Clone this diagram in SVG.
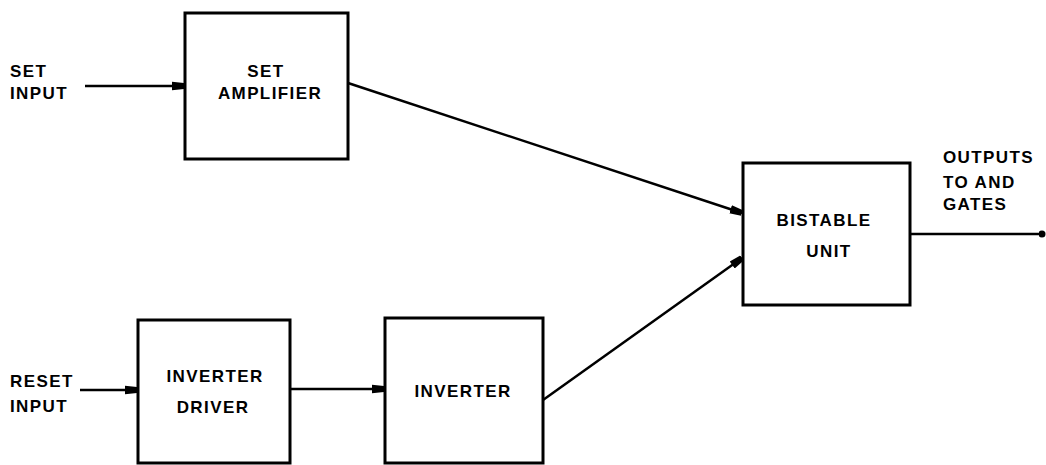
<svg xmlns="http://www.w3.org/2000/svg" width="1046" height="465" viewBox="0 0 1046 465">
<style>
.box{fill:#fff;stroke:#000;stroke-width:3}
.ln{fill:none;stroke:#000;stroke-width:2.5}
text{font-family:"Liberation Sans",Arial,sans-serif;font-weight:bold;font-size:17px;letter-spacing:1.4px;fill:#000}
.c{text-anchor:middle}
</style>
<defs>
<marker id="ah" viewBox="0 0 10 10" refX="10" refY="5" markerWidth="4.8" markerHeight="4.8" orient="auto" markerUnits="strokeWidth">
<path d="M0,1.5 L10,2.5 L10,7.5 L0,8.5 Z" fill="#000"/>
</marker>
<marker id="dot" viewBox="0 0 10 10" refX="5" refY="5" markerWidth="2.8" markerHeight="3.6" orient="auto" markerUnits="strokeWidth">
<ellipse cx="5" cy="5" rx="5" ry="5" fill="#000"/>
</marker>
</defs>
<g id="connectors">
<line class="ln" x1="85" y1="86" x2="184" y2="86" marker-end="url(#ah)"/>
<line class="ln" x1="348" y1="83" x2="742" y2="213" marker-end="url(#ah)"/>
<line class="ln" x1="80" y1="390" x2="137" y2="390" marker-end="url(#ah)"/>
<line class="ln" x1="290" y1="389" x2="384" y2="389" marker-end="url(#ah)"/>
<line class="ln" x1="543" y1="400" x2="742" y2="258" marker-end="url(#ah)"/>
<line class="ln" x1="910" y1="234" x2="1042" y2="234" marker-end="url(#dot)"/>
</g>
<g id="set-input-label">
<text x="10" y="77">SET</text>
<text x="10" y="99">INPUT</text>
</g>
<g id="reset-input-label">
<text x="10" y="387">RESET</text>
<text x="10" y="412">INPUT</text>
</g>
<g id="set-amplifier">
<rect class="box" x="185" y="13" width="163" height="146"/>
<text class="c" x="266" y="77">SET</text>
<text class="c" x="270" y="99">AMPLIFIER</text>
</g>
<g id="inverter-driver">
<rect class="box" x="138" y="320" width="152" height="143"/>
<text class="c" x="215" y="382">INVERTER</text>
<text class="c" x="213" y="413">DRIVER</text>
</g>
<g id="inverter">
<rect class="box" x="385" y="318" width="158" height="145"/>
<text class="c" x="463" y="397">INVERTER</text>
</g>
<g id="bistable-unit">
<rect class="box" x="743" y="163" width="167" height="142"/>
<text class="c" x="824" y="226">BISTABLE</text>
<text class="c" x="829" y="257">UNIT</text>
</g>
<g id="outputs-label">
<text x="943" y="163">OUTPUTS</text>
<text x="943" y="188">TO AND</text>
<text x="943" y="210">GATES</text>
</g>
</svg>
